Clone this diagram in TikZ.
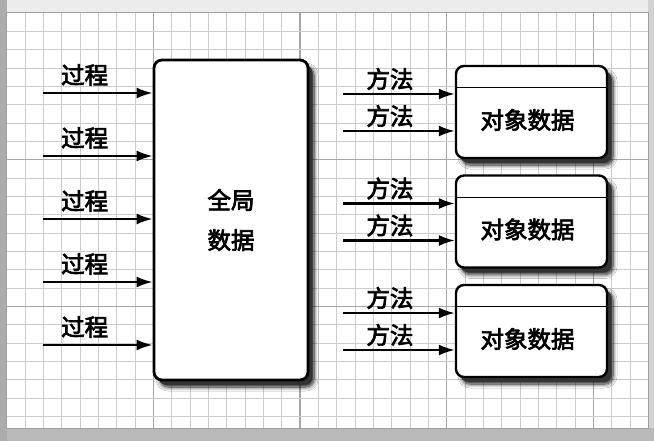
\documentclass[tikz,border=0pt]{standalone}
\usepackage{fontspec}
\newfontfamily\cjk[FakeBold=3]{Noto Sans CJK SC}
\usetikzlibrary{arrows.meta,calc,shadows,shadows.blur}
\begin{document}
\begin{tikzpicture}[x=1pt,y=-1pt,
  every node/.style={font=\cjk\fontsize{23.5}{40}\selectfont},
  gridminor/.style={draw=gray!40, line width=0.8pt},
  gridmajor/.style={draw=gray!70, line width=1.2pt},
  shadowed/.style={
      blur shadow={shadow xshift=6pt, shadow yshift=-7pt,
        shadow blur steps=8, shadow blur radius=4pt, shadow blur extra rounding=2pt,
        shadow opacity=90},
      drop shadow={shadow xshift=4.5pt, shadow yshift=-5pt, fill=black!80, opacity=1}},
  gbox/.style={draw, line width=2.8pt, rounded corners=8pt, fill=white, shadowed,
      minimum width=154pt, minimum height=320pt, align=center},
  objbox/.style={draw, line width=2.4pt, rounded corners=8pt, fill=white, shadowed,
      minimum width=151pt, minimum height=92pt},
  divider/.style={line width=1.2pt},
  arr/.style={line width=2.2pt, -{Latex[length=16pt,width=11pt]}},
  lbl/.style={inner sep=0pt},
]
\useasboundingbox (0,0) rectangle (654,441);

% paper and its scanned edges
\fill[gray!15] (0,0) rectangle (654,441);
\fill[gray!35] (648,0) rectangle (654,441);
\fill[gray!55] (0,428) rectangle (654,441);
\fill[gray!65] (0,0) rectangle (7,441);
\fill[white] (6.7,13) rectangle (648,428);

% graph-paper grid, heavier line every 8 cells
\foreach \i in {1,...,34} {
  \pgfmathsetmacro\gx{6.7+\i*18.33}
  \pgfmathtruncatemacro\m{mod(\i,8)}
  \ifnum\m=0 \draw[gridmajor] (\gx,13) -- (\gx,428);
  \else \draw[gridminor] (\gx,13) -- (\gx,428); \fi
}
\foreach \j in {1,...,22} {
  \pgfmathsetmacro\gy{13+\j*18.33}
  \pgfmathtruncatemacro\m{mod(\j,8)}
  \ifnum\m=0 \draw[gridmajor] (6.7,\gy) -- (648,\gy);
  \else \draw[gridminor] (6.7,\gy) -- (648,\gy); \fi
}
\draw[gray!75, line width=1pt] (6.7,13) rectangle (648,428);

% global data block with the procedures that reach into it
\node[gbox] (global) at (231,220) {全局\\数据};
\foreach \k/\y in {1/93,2/156,3/219,4/282,5/345} {
  \coordinate (s\k) at (43,\y);
  \draw[arr] (s\k) -- (s\k -| global.west)
    node[lbl, pos=0.38, yshift=18pt] (pl\k) {过程};
}

% objects: data hidden behind their methods
\foreach \n/\c in {1/112,2/221.5,3/331} {
  \node[objbox] (o\n) at (531.5,\c) {};
  \draw[divider] ($(o\n.north west)+(0,23)$) -- ($(o\n.north east)+(0,23)$);
  \node (d\n) at ($(o\n.center)+(-4,8)$) {对象数据};
  \coordinate (ma\n) at (343,\c-18);
  \coordinate (mb\n) at (343,\c+19);
  \draw[arr] (ma\n) -- (ma\n -| o\n.west)
    node[lbl, pos=0.42, yshift=15pt] (ta\n) {方法};
  \draw[arr] (mb\n) -- (mb\n -| o\n.west)
    node[lbl, pos=0.42, yshift=15pt] (tb\n) {方法};
}
\end{tikzpicture}
\end{document}
